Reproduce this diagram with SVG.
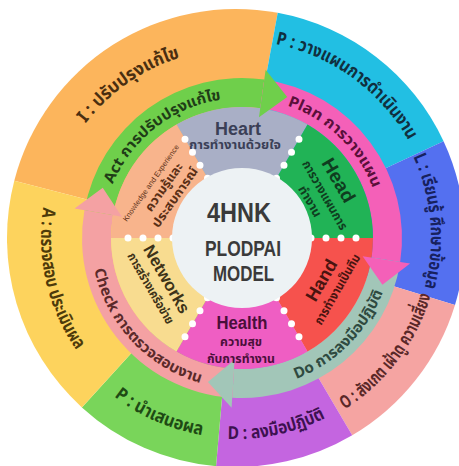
<svg xmlns="http://www.w3.org/2000/svg" width="459" height="466" viewBox="0 0 459 466">
<style>
text { font-family: "Noto Sans Thai", "Noto Sans", "Liberation Sans", "DejaVu Sans", sans-serif; font-weight: bold; }
.en { font-family: "Liberation Sans", "Noto Sans", sans-serif; font-weight: bold; }
.ol { font-size: 18px; }
.pd { font-size: 15px; }
.th { font-size: 12.5px; }
.dots { fill: none; stroke: #ffffff; stroke-width: 7; stroke-linecap: round; stroke-dasharray: 0 15; }
</style>
<defs>
<path id="pI" d="M49.87,205.18 A189 189 0 0 1 268.82,51.87"/>
<path id="pP1" d="M236,40 A198 198 0 0 1 424.31,176.81"/>
<path id="pL" d="M373.89,100.11 A195 195 0 0 1 395.73,349.85"/>
<path id="pO" d="M281.67,435.80 A203 203 0 0 0 438.72,227.38"/>
<path id="pD" d="M141.64,415.47 A201 201 0 0 0 394.39,361.75"/>
<path id="pP2" d="M56.70,326.61 A200 200 0 0 0 292.13,429.96"/>
<path id="pA" d="M62.25,149.47 A195 195 0 0 0 118.65,393.73"/>
<path id="pAct" d="M103.04,220.94 A140 140 0 0 1 259.06,99.04"/>
<path id="pPlan" d="M242,98 A140 140 0 0 1 381.91,233.11"/>
<path id="pDo" d="M242,389 A151 151 0 0 0 393,238"/>
<path id="pCheck" d="M91.09,232.73 A151 151 0 0 0 236.73,388.91"/>
</defs>

<g id="outer-ring">
<path id="seg-I" fill="#fcb55c" d="M236,238 L14.29,180.66 A229 229 0 0 1 277.73,12.84 Z"/>
<path id="seg-P1" fill="#22bfe3" d="M236,238 L277.73,12.84 A229 229 0 0 1 443.54,141.22 Z"/>
<path id="seg-L" fill="#5470f0" d="M236,238 L443.54,141.22 A229 229 0 0 1 454.99,304.95 Z"/>
<path id="seg-O" fill="#f5a4a2" d="M236,238 L454.99,304.95 A229 229 0 0 1 352.23,435.31 Z"/>
<path id="seg-D" fill="#c465e0" d="M236,238 L352.23,435.31 A229 229 0 0 1 216.04,466.13 Z"/>
<path id="seg-P2" fill="#79d55a" d="M236,238 L216.04,466.13 A229 229 0 0 1 81.88,407.38 Z"/>
<path id="seg-A" fill="#fdd35d" d="M236,238 L81.88,407.38 A229 229 0 0 1 14.29,180.66 Z"/>
</g>

<g id="pdca-bands">
<path id="band-act" fill="#6fcf4b" d="M84.43,210.22 A160 160 0 0 1 264.27,79.56 L260.23,108.27 A131 131 0 0 0 112.99,215.25 Z"/>
<path id="band-plan" fill="#f460b8" d="M264.27,79.56 A160 160 0 0 1 400.20,261.93 L371.53,257.59 A131 131 0 0 0 260.23,108.27 Z"/>
<path id="band-do" fill="#a2c6b8" d="M400.20,261.93 A160 160 0 0 1 232.23,397.70 L234.00,368.76 A131 131 0 0 0 371.53,257.59 Z"/>
<path id="band-check" fill="#f4a1a3" d="M232.23,397.70 A160 160 0 0 1 84.43,210.22 L112.99,215.25 A131 131 0 0 0 234.00,368.76 Z"/>
</g>

<g id="sectors">
<path id="sec-heart" fill="#a9afc6" d="M242,238 L176.5,124.55 A131 131 0 0 1 307.5,124.55 Z"/>
<path id="sec-head" fill="#21b356" d="M242,238 L307.5,124.55 A131 131 0 0 1 373,238 Z"/>
<path id="sec-hand" fill="#f6524d" d="M242,238 L373,238 A131 131 0 0 1 307.5,351.45 Z"/>
<path id="sec-health" fill="#ef5ec3" d="M242,238 L307.5,351.45 A131 131 0 0 1 176.5,351.45 Z"/>
<path id="sec-networks" fill="#f8dc90" d="M242,238 L176.5,351.45 A131 131 0 0 1 111,238 Z"/>
<path id="sec-knowledge" fill="#f8b48c" d="M242,238 L111,238 A131 131 0 0 1 176.5,124.55 Z"/>
</g>

<g id="arrowheads">
<polygon fill="#6fcf4b" points="258.98,117.19 265.66,69.65 287.24,97.08"/>
<polygon fill="#f460b8" points="362.63,256.24 410.09,263.42 382.43,284.72"/>
<polygon fill="#a2c6b8" points="234.55,359.77 231.62,407.68 207.95,382.03"/>
<polygon fill="#f4a1a3" points="121.85,216.81 74.58,208.48 102.75,187.87"/>
</g>

<g id="separators">
<line class="dots" x1="276.5" y1="178.24" x2="306.5" y2="126.28"/>
<line class="dots" x1="311" y1="238" x2="371" y2="238"/>
<line class="dots" x1="276.5" y1="297.76" x2="306.5" y2="349.72"/>
<line class="dots" x1="207.5" y1="297.76" x2="177.5" y2="349.72"/>
<line class="dots" x1="173" y1="238" x2="113" y2="238"/>
<line class="dots" x1="207.5" y1="178.24" x2="177.5" y2="126.28"/>
</g>

<g id="center">
<circle cx="242" cy="238" r="70" fill="#edf2f4"/>
<text class="en" x="239" y="222" font-size="28" text-anchor="middle" fill="#3a3a3a" textLength="64" lengthAdjust="spacingAndGlyphs">4HNK</text>
<text class="en" x="243" y="256" font-size="22" text-anchor="middle" fill="#3a3a3a" textLength="76" lengthAdjust="spacingAndGlyphs">PLODPAI</text>
<text class="en" x="243.5" y="281" font-size="22" text-anchor="middle" fill="#3a3a3a" textLength="61" lengthAdjust="spacingAndGlyphs">MODEL</text>
</g>

<g id="outer-labels">
<text class="ol" fill="#4a2e10"><textPath href="#pI" startOffset="50%" text-anchor="middle" textLength="117" lengthAdjust="spacingAndGlyphs">I : ปรับปรุงแก้ไข</textPath></text>
<text class="ol" fill="#10303f"><textPath href="#pP1" startOffset="50%" text-anchor="middle" textLength="169" lengthAdjust="spacingAndGlyphs">P : วางแผนการดำเนินงาน</textPath></text>
<text class="ol" fill="#17215e"><textPath href="#pL" startOffset="50%" text-anchor="middle" textLength="134" lengthAdjust="spacingAndGlyphs">L : เรียนรู้ ศึกษาข้อมูล</textPath></text>
<text class="ol" fill="#5a2828"><textPath href="#pO" startOffset="50%" text-anchor="middle" textLength="146" lengthAdjust="spacingAndGlyphs">O : สังเกต เฝ้าดู ความเสี่ยง</textPath></text>
<text class="ol" fill="#3d1150"><textPath href="#pD" startOffset="50%" text-anchor="middle" textLength="101" lengthAdjust="spacingAndGlyphs">D : ลงมือปฏิบัติ</textPath></text>
<text class="ol" fill="#1e4a14"><textPath href="#pP2" startOffset="50%" text-anchor="middle" textLength="97" lengthAdjust="spacingAndGlyphs">P : นำเสนอผล</textPath></text>
<text class="ol" fill="#4d3a0a"><textPath href="#pA" startOffset="50%" text-anchor="middle" textLength="150" lengthAdjust="spacingAndGlyphs">A : ตรวจสอบ ประเมินผล</textPath></text>
</g>

<g id="pdca-labels">
<text class="pd" fill="#1f3d17"><textPath href="#pAct" startOffset="50%" text-anchor="middle" textLength="144" lengthAdjust="spacingAndGlyphs">Act การปรับปรุงแก้ไข</textPath></text>
<text class="pd" fill="#5a0f3a"><textPath href="#pPlan" startOffset="50%" text-anchor="middle" textLength="123" lengthAdjust="spacingAndGlyphs">Plan การวางแผน</textPath></text>
<text class="pd" fill="#2f4a40"><textPath href="#pDo" startOffset="50%" text-anchor="middle" textLength="126" lengthAdjust="spacingAndGlyphs">Do การลงมือปฏิบัติ</textPath></text>
<text class="pd" fill="#5a2a2a"><textPath href="#pCheck" startOffset="50%" text-anchor="middle" textLength="163" lengthAdjust="spacingAndGlyphs">Check การตรวจสอบงาน</textPath></text>
</g>

<g id="node-heart" fill="#3b3f57" text-anchor="middle">
<text class="en" x="238" y="135" font-size="18" textLength="46" lengthAdjust="spacingAndGlyphs">Heart</text>
<text class="th" x="235" y="149" textLength="92" lengthAdjust="spacingAndGlyphs">การทำงานด้วยใจ</text>
</g>
<g id="node-head" fill="#0f3d1f" text-anchor="middle" transform="translate(339,180) rotate(60)">
<text class="en" x="0" y="7" font-size="19" textLength="48" lengthAdjust="spacingAndGlyphs">Head</text>
<text class="th" x="6" y="24" textLength="78" lengthAdjust="spacingAndGlyphs">การวางแผนการ</text>
<text class="th" x="4" y="40" textLength="34" lengthAdjust="spacingAndGlyphs">ทำงาน</text>
</g>
<g id="node-hand" fill="#4a1410" text-anchor="middle" transform="translate(321,280) rotate(-60)">
<text class="en" x="0" y="6.5" font-size="18">Hand</text>
<text class="th" x="0" y="23" textLength="79" lengthAdjust="spacingAndGlyphs">การทำงานเป็นทีม</text>
</g>
<g id="node-health" fill="#4a0f3a" text-anchor="middle">
<text class="en" x="242" y="329" font-size="18" textLength="51" lengthAdjust="spacingAndGlyphs">Health</text>
<text class="th" x="241" y="346" textLength="42" lengthAdjust="spacingAndGlyphs">ความสุข</text>
<text class="th" x="241" y="363" textLength="68" lengthAdjust="spacingAndGlyphs">กับการทำงาน</text>
</g>
<g id="node-networks" fill="#3d3318" text-anchor="middle" transform="translate(167,279) rotate(60)">
<text class="en" x="0" y="6" font-size="17" textLength="76" lengthAdjust="spacingAndGlyphs">Networks</text>
<text class="th" x="0" y="23" font-size="11.5" textLength="80" lengthAdjust="spacingAndGlyphs">การสร้างเครือข่าย</text>
</g>
<g id="node-knowledge" fill="#5a2f16" text-anchor="middle" transform="translate(151,183) rotate(-55)">
<text x="0" y="2.5" font-size="7.5" style="font-family:'Liberation Sans',sans-serif;font-weight:normal" textLength="92" lengthAdjust="spacingAndGlyphs">Knowledge and Experience</text>
<text class="th" x="4" y="17" font-size="13" textLength="56" lengthAdjust="spacingAndGlyphs">ความรู้และ</text>
<text class="th" x="2" y="32" font-size="13" textLength="70" lengthAdjust="spacingAndGlyphs">ประสบการณ์</text>
</g>
</svg>
